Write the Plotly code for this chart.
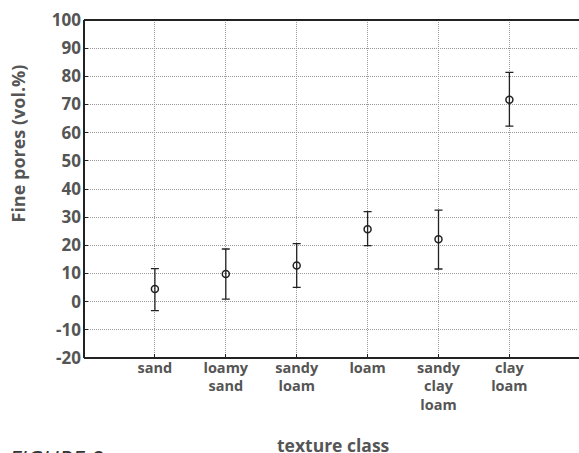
import plotly.graph_objects as go

categories = ["sand", "loamy<br>sand", "sandy<br>loam", "loam", "sandy<br>clay<br>loam", "clay<br>loam"]
positions = [1, 2, 3, 4, 5, 6]
means = [4.5, 9.8, 12.8, 25.7, 22.2, 71.7]
upper = [11.7, 18.7, 20.6, 32.0, 32.5, 81.4]
lower = [-3.2, 0.9, 5.1, 19.9, 11.6, 62.3]
y_ticks = [-20, -10, 0, 10, 20, 30, 40, 50, 60, 70, 80, 90, 100]
y_labels = ["-20", "-10", "0", "10", "20", "30", "40", "50", "60", "70", "80", "90", "100"]

err_plus = [u - m for u, m in zip(upper, means)]
err_minus = [m - l for m, l in zip(means, lower)]

FONT = "Open Sans"
GREY = "#555555"
AXIS = "#222222"

FIG_W = 579
R = 0
PLOT_W = FIG_W - 84 - R

fig = go.Figure()
fig.add_trace(go.Scatter(
    x=positions, y=means, mode="markers",
    marker=dict(symbol="circle-open", size=7, color=AXIS, line=dict(width=1.5)),
    error_y=dict(type="data", symmetric=False, array=err_plus, arrayminus=err_minus,
                 color=AXIS, thickness=1.3, width=4),
    showlegend=False,
))

frame = dict(type="line", xref="paper", yref="paper", line=dict(color=AXIS, width=2), layer="above")

fig.update_layout(
    width=FIG_W, height=453,
    margin=dict(l=84, r=R, t=20, b=95),
    paper_bgcolor="white", plot_bgcolor="white",
    font=dict(family=FONT, color=GREY),
    xaxis=dict(
        range=[0, PLOT_W / 70.9], tickmode="array", tickvals=positions, ticktext=categories,
        tickfont=dict(family=FONT, size=14.5, color=GREY, weight="bold"),
        showgrid=True, gridcolor="#999999", griddash="1px,1px", gridwidth=1,
        showline=False, mirror=False,
        ticks="inside", ticklen=4, tickcolor=AXIS, tickwidth=1,
        zeroline=False, automargin=False, ticklabelstandoff=-1,
    ),
    yaxis=dict(
        range=[-20, 100], tickmode="array", tickvals=y_ticks, ticktext=y_labels,
        tickfont=dict(family=FONT, size=17, color=GREY, weight="bold"),
        showgrid=True, gridcolor="#999999", griddash="1px,1px", gridwidth=1,
        showline=False, mirror=False,
        ticks="inside", ticklen=4, tickcolor=AXIS, tickwidth=1,
        zeroline=False, ticklabelstandoff=2, automargin=False,
    ),
    shapes=[
        dict(type="rect", xref="paper", yref="paper", x0=0.997, x1=1.02, y0=0.002, y1=0.998,
             fillcolor="white", line=dict(width=0), layer="above"),
        dict(frame, x0=0, x1=1.01, y0=0, y1=0),
        dict(frame, x0=0, x1=1.01, y0=1, y1=1),
        dict(frame, x0=0, x1=0, y0=0, y1=1),
    ],
    annotations=[
        dict(text="Fine pores (vol.%)", textangle=-90, xref="paper", yref="paper",
             x=(17 - 84) / PLOT_W, y=(358 - 143.5) / 338, xanchor="center", yanchor="middle",
             showarrow=False, font=dict(family=FONT, size=18, color=GREY, weight="bold")),
        dict(text="texture class", xref="paper", yref="paper",
             x=(333 - 84) / PLOT_W, y=(358 - 445) / 338, xanchor="center", yanchor="middle",
             showarrow=False, font=dict(family=FONT, size=17.5, color=GREY, weight="bold")),
        dict(text="FIGURE 8", xref="paper", yref="paper",
             x=(7 - 84) / PLOT_W, y=(358 - 441) / 338, xanchor="left", yanchor="top",
             showarrow=False, font=dict(family=FONT, size=23.5, color="#333333", style="italic")),
    ],
)

fig.write_html(
    "out.html",
    config={"displayModeBar": False, "staticPlot": True},
    post_script="document.body.style.margin='0';document.body.style.overflow='hidden';",
)
